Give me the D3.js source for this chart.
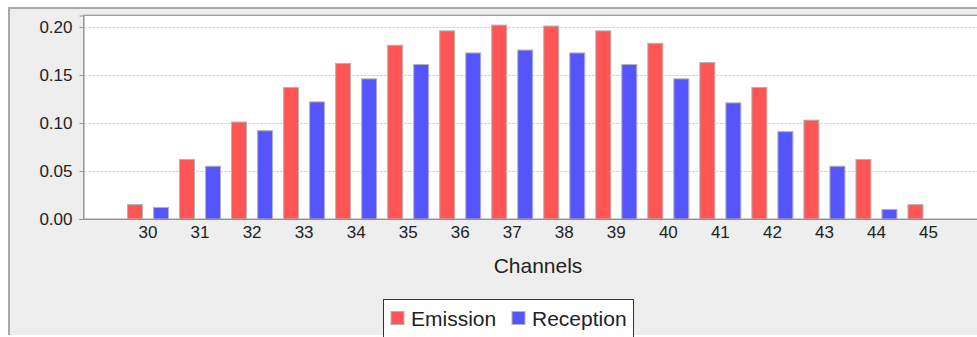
<!DOCTYPE html>
<html>
<head>
<meta charset="utf-8">
<script src="https://cdn.jsdelivr.net/npm/d3@7"></script>
<style>
  html, body { margin: 0; padding: 0; background: #ffffff; }
  svg { display: block; }
  text { font-family: "Liberation Sans", Arial, sans-serif; fill: #222; }
</style>
</head>
<body>
<svg id="chart" width="977" height="337"></svg>
<script>
const channels = ["30","31","32","33","34","35","36","37","38","39","40","41","42","43","44","45"];
const seriesNames = ["Emission", "Reception"];
const emission  = [0.015, 0.062, 0.101, 0.137, 0.162, 0.181, 0.196, 0.202, 0.201, 0.196, 0.183, 0.163, 0.137, 0.103, 0.062, 0.015];
const reception = [0.012, 0.055, 0.092, 0.122, 0.146, 0.161, 0.173, 0.176, 0.173, 0.161, 0.146, 0.121, 0.091, 0.055, 0.010, 0.000];
const yTicks = [0, 0.05, 0.10, 0.15, 0.20];
const xTitle = "Channels";
const colors = ["#ff5555", "#5555ff"];

const svg = d3.select("#chart");

// outer panel
svg.append("rect").attr("x", 8).attr("y", 7).attr("width", 977).attr("height", 328)
  .attr("fill", "#eeeeee");
svg.append("path").attr("d", "M9,335V8H977").attr("fill", "none")
  .attr("stroke", "#a8a8a8").attr("stroke-width", 2);

const plot = { left: 83.5, top: 15.5, right: 990, bottom: 219 };

const x0 = d3.scaleBand().domain(channels).range([122, 954.5]).paddingInner(0).paddingOuter(0);
const x1 = d3.scaleBand().domain(seriesNames).range([0, x0.bandwidth()]).paddingInner(0.423).paddingOuter(0.2115);
const y = d3.scaleLinear().domain([0, 0.212]).range([plot.bottom, plot.top]);

// plot background
svg.append("rect").attr("x", plot.left).attr("y", plot.top)
  .attr("width", plot.right - plot.left).attr("height", plot.bottom - plot.top)
  .attr("fill", "#ffffff").attr("stroke", "#a0a0a0").attr("stroke-width", 1);
svg.append("line").attr("x1", plot.left).attr("x2", plot.right).attr("y1", 14.5).attr("y2", 14.5)
  .attr("stroke", "#d0d0d0").attr("stroke-width", 1);

// gridlines
svg.append("g").selectAll("line").data(yTicks.filter(d => d > 0)).join("line")
  .attr("x1", plot.left + 1).attr("x2", plot.right)
  .attr("y1", d => Math.round(y(d)) + 0.5).attr("y2", d => Math.round(y(d)) + 0.5)
  .attr("stroke", "#c4c4c4").attr("stroke-width", 1).attr("stroke-dasharray", "2,2");

// bars
const data = channels.map((c, i) => ({ c, vals: [emission[i], reception[i]] }));
const groups = svg.append("g").selectAll("g").data(data).join("g")
  .attr("transform", d => `translate(${x0(d.c)},0)`);
groups.selectAll("rect").data(d => d.vals.map((v, j) => ({ v, s: seriesNames[j], j })).filter(e => e.v > 0))
  .join("rect")
  .attr("x", e => x1(e.s))
  .attr("width", x1.bandwidth())
  .attr("y", e => y(e.v))
  .attr("height", e => plot.bottom - y(e.v))
  .attr("fill", e => colors[e.j])
  .attr("stroke", "#b4b4b4").attr("stroke-width", 1);

// y axis
const yAxis = d3.axisLeft(y).tickValues(yTicks).tickFormat(d3.format(".2f")).tickSize(4).tickPadding(7);
const yg = svg.append("g").attr("transform", `translate(${plot.left},0)`).call(yAxis);
yg.select(".domain").attr("stroke", "#909090");
yg.selectAll(".tick line").attr("stroke", "#909090");
yg.selectAll(".tick text").attr("font-size", 17).attr("fill", "#222")
  .attr("font-family", "'Liberation Sans', Arial, sans-serif");

// x axis
const xAxis = d3.axisBottom(x0).tickSize(0).tickPadding(7);
const xg = svg.append("g").attr("transform", `translate(0,${plot.bottom})`).call(xAxis);
xg.select(".domain").attr("stroke", "#909090").attr("d", `M${plot.left},0.5H${plot.right}`);
xg.selectAll(".tick text").attr("font-size", 17).attr("fill", "#222")
  .attr("font-family", "'Liberation Sans', Arial, sans-serif");

// axis title
svg.append("text").attr("x", 538).attr("y", 273).attr("text-anchor", "middle")
  .attr("font-size", 21).text(xTitle);

// legend
const lg = svg.append("g");
lg.append("rect").attr("x", 383.5).attr("y", 299.5).attr("width", 250).attr("height", 50)
  .attr("fill", "#ffffff").attr("stroke", "#333").attr("stroke-width", 1);
const legendX = [391, 512];
seriesNames.forEach((s, j) => {
  lg.append("rect").attr("x", legendX[j]).attr("y", 311.5).attr("width", 13).attr("height", 13)
    .attr("fill", colors[j]).attr("stroke", "#b4b4b4").attr("stroke-width", 1);
  lg.append("text").attr("x", legendX[j] + 20).attr("y", 325.5).attr("font-size", 21).text(s);
});
</script>
</body>
</html>
